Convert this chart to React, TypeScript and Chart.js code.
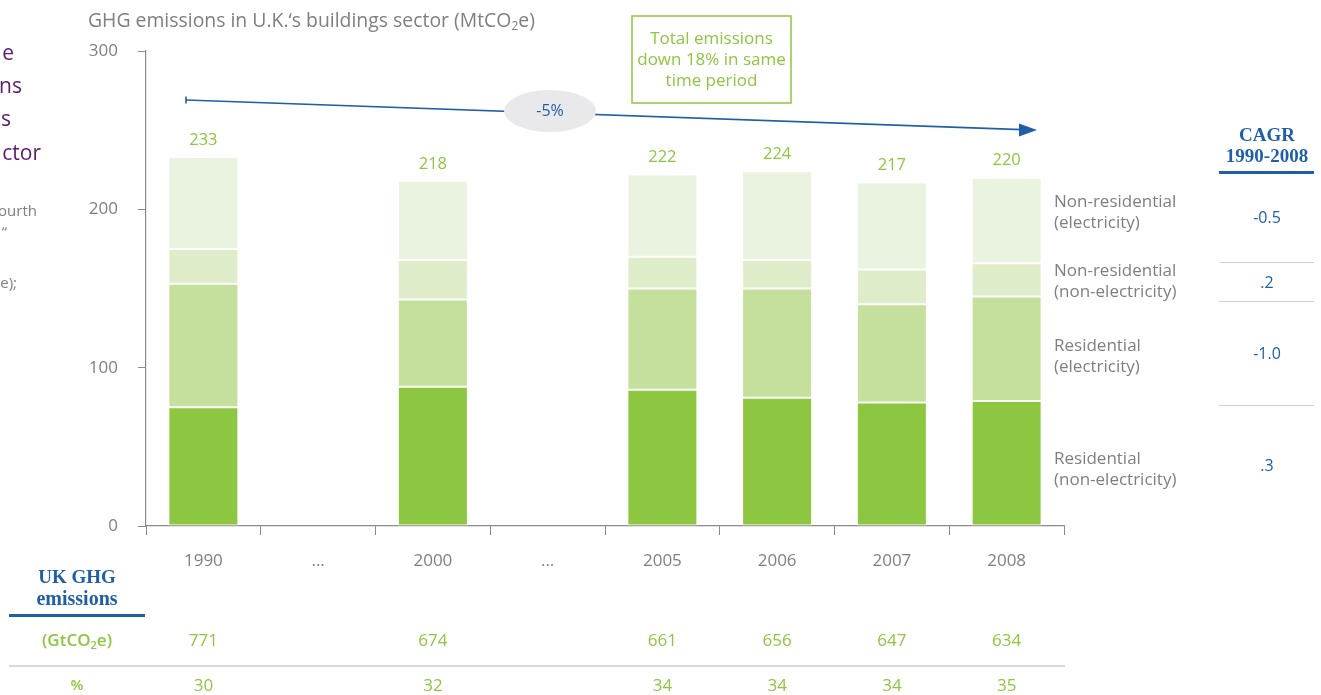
import React, { useEffect, useRef } from "react";
import { Chart, registerables } from "chart.js";

Chart.register(...registerables);

const categories = ["1990", "...", "2000", "...", "2005", "2006", "2007", "2008"];
const residentialNonElectricity = [75, null, 88, null, 86, 81, 78, 79];
const residentialElectricity = [78, null, 55, null, 64, 69, 62, 66];
const nonResidentialNonElectricity = [22, null, 25, null, 20, 18, 22, 21];
const nonResidentialElectricity = [58, null, 50, null, 52, 56, 55, 54];
const totals = [233, null, 218, null, 222, 224, 217, 220];
const ukGhgEmissions = ["771", "", "674", "", "661", "656", "647", "634"];
const buildingsShare = ["30", "", "32", "", "34", "34", "34", "35"];
const seriesLabels = [
  ["Residential", "(non-electricity)"],
  ["Residential", "(electricity)"],
  ["Non-residential", "(non-electricity)"],
  ["Non-residential", "(electricity)"],
];
const cagrValues = [".3", "-1.0", ".2", "-0.5"];
const yTickValues = [0, 100, 200, 300];

const FONT = "'Open Sans', sans-serif";
const SERIF = "'Liberation Serif', 'DejaVu Serif', serif";
const GRAY = "#7f7f7f";
const BLUE = "#1f5fa8";
const GREEN = "#8dc63f";
const PURPLE = "#5b1a6e";
const COLORS = ["#8dc641", "#c5df9d", "#dfecca", "#eaf3df"];

function txt(ctx: CanvasRenderingContext2D, s: string, x: number, y: number, font: string, color: string, align: CanvasTextAlign = "left") {
  ctx.font = font;
  ctx.fillStyle = color;
  ctx.textAlign = align;
  ctx.textBaseline = "middle";
  ctx.fillText(s, x, y);
}

function subText(ctx: CanvasRenderingContext2D, pre: string, sub: string, post: string, x: number, y: number, size: number, weight: string, color: string, align: "left" | "center") {
  const big = `${weight} ${size}px ${FONT}`;
  const small = `${weight} ${Math.round(size * 0.62)}px ${FONT}`;
  ctx.font = big;
  const w1 = ctx.measureText(pre).width;
  const w3 = ctx.measureText(post).width;
  ctx.font = small;
  const w2 = ctx.measureText(sub).width;
  let sx = align === "center" ? x - (w1 + w2 + w3) / 2 : x;
  txt(ctx, pre, sx, y, big, color, "left");
  sx += w1;
  txt(ctx, sub, sx, y + size * 0.3, small, color, "left");
  sx += w2;
  txt(ctx, post, sx, y, big, color, "left");
}

const overlay = {
  id: "overlay",
  afterDraw(chart: any) {
    const ctx: CanvasRenderingContext2D = chart.ctx;
    const xs = chart.scales.x;
    const ys = chart.scales.y;
    ctx.save();

    // Title
    subText(ctx, "GHG emissions in U.K.\u2018s buildings sector (MtCO", "2", "e)", 88, 21, 19.4, "normal", GRAY, "left");

    // Cropped side text fragments
    const pf = `normal 21px ${FONT}`;
    txt(ctx, "e", 14, 54, pf, PURPLE, "right");
    txt(ctx, "ns", 22, 87, pf, PURPLE, "right");
    txt(ctx, "s", 11, 120, pf, PURPLE, "right");
    txt(ctx, "ctor", 41, 154, pf, PURPLE, "right");
    const gf = `normal 15px ${FONT}`;
    txt(ctx, "ourth", 37, 212, gf, GRAY, "right");
    txt(ctx, "\u201c", 7, 233, gf, GRAY, "right");
    txt(ctx, "e);", 17, 284, gf, GRAY, "right");

    // Annotation box
    ctx.strokeStyle = GREEN;
    ctx.lineWidth = 1.5;
    ctx.strokeRect(632, 16, 159, 87);
    const bf = `normal 17px ${FONT}`;
    txt(ctx, "Total emissions", 711.5, 39, bf, GREEN, "center");
    txt(ctx, "down 18% in same", 711.5, 60, bf, GREEN, "center");
    txt(ctx, "time period", 711.5, 81, bf, GREEN, "center");

    // Trend arrow
    ctx.strokeStyle = BLUE;
    ctx.lineWidth = 1.6;
    ctx.beginPath();
    ctx.moveTo(186, 100);
    ctx.lineTo(1022, 129.6);
    ctx.stroke();
    ctx.beginPath();
    ctx.moveTo(186, 96.5);
    ctx.lineTo(186, 103.5);
    ctx.stroke();
    ctx.fillStyle = BLUE;
    ctx.beginPath();
    ctx.moveTo(1037, 130);
    ctx.lineTo(1019, 123.5);
    ctx.lineTo(1019, 136.5);
    ctx.closePath();
    ctx.fill();
    ctx.fillStyle = "#e9e9eb";
    ctx.beginPath();
    ctx.ellipse(550, 111, 46, 21, 0, 0, Math.PI * 2);
    ctx.fill();
    txt(ctx, "-5%", 550, 111, `normal 16px ${FONT}`, BLUE, "center");

    // Totals above bars
    totals.forEach((t, i) => {
      if (t == null) return;
      txt(ctx, String(t), xs.getPixelForValue(i), ys.getPixelForValue(t) - 17, `normal 16.5px ${FONT}`, GREEN, "center");
    });

    // Series labels on the right
    const legendY = [[459, 480], [346, 367], [271, 292], [202, 223]];
    seriesLabels.forEach((lines, i) => {
      lines.forEach((l, j) => txt(ctx, l, 1054, legendY[i][j], `normal 17px ${FONT}`, GRAY, "left"));
    });

    // CAGR table
    const hf = `bold 19px ${SERIF}`;
    txt(ctx, "CAGR", 1267, 136, hf, BLUE, "center");
    txt(ctx, "1990-2008", 1267, 157, hf, BLUE, "center");
    ctx.fillStyle = BLUE;
    ctx.fillRect(1219, 171, 95, 3);
    ctx.fillStyle = "#d0d0d0";
    [262, 301, 405].forEach((yy) => ctx.fillRect(1219, yy, 95, 1));
    const cagrY = [466, 354, 283, 218];
    cagrValues.forEach((v, i) => txt(ctx, v, 1267, cagrY[i], `normal 16px ${FONT}`, BLUE, "center"));

    // Bottom table
    txt(ctx, "UK GHG", 77, 578, hf, BLUE, "center");
    txt(ctx, "emissions", 77, 600, `bold 20px ${SERIF}`, BLUE, "center");
    ctx.fillStyle = BLUE;
    ctx.fillRect(9, 614, 136, 3);
    subText(ctx, "(GtCO", "2", "e)", 77, 641, 17, "600", GREEN, "center");
    txt(ctx, "%", 77, 686, `600 15px ${FONT}`, GREEN, "center");
    ctx.fillStyle = "#d9d9d9";
    ctx.fillRect(9, 665, 1056, 2);
    categories.forEach((_, i) => {
      const px = xs.getPixelForValue(i);
      if (ukGhgEmissions[i]) txt(ctx, ukGhgEmissions[i], px, 641, `normal 17px ${FONT}`, GREEN, "center");
      if (buildingsShare[i]) txt(ctx, buildingsShare[i], px, 686, `normal 17px ${FONT}`, GREEN, "center");
    });

    ctx.restore();
  },
};

export default function App() {
  const ref = useRef<HTMLCanvasElement>(null);
  useEffect(() => {
    if (!ref.current) return;
    const series = [residentialNonElectricity, residentialElectricity, nonResidentialNonElectricity, nonResidentialElectricity];
    const chart = new Chart(ref.current, {
      type: "bar",
      data: {
        labels: categories,
        datasets: series.map((d, i) => ({
          label: seriesLabels[i].join(" "),
          data: d as any,
          backgroundColor: COLORS[i],
          borderColor: "#ffffff",
          borderWidth: 1,
          borderSkipped: false,
          barPercentage: 0.61,
          categoryPercentage: 1,
        })),
      },
      options: {
        responsive: false,
        maintainAspectRatio: false,
        animation: false,
        layout: { padding: { left: 0, top: 51, right: 257, bottom: 109 } },
        plugins: { legend: { display: false }, tooltip: { enabled: false } },
        scales: {
          x: {
            stacked: true,
            afterFit: (s: any) => { s.height = 60; },
            grid: { offset: true, drawOnChartArea: false, tickLength: 9, color: "#8a8a8a" },
            border: { color: "#8a8a8a", width: 1.2 },
            ticks: { color: GRAY, font: { family: FONT, size: 17 }, padding: 16 },
          },
          y: {
            stacked: true,
            min: 0,
            max: 300,
            afterFit: (s: any) => { s.width = 146; },
            afterBuildTicks: (s: any) => { s.ticks = yTickValues.map((v) => ({ value: v })); },
            grid: { drawOnChartArea: false, tickLength: 8, color: "#8a8a8a" },
            border: { color: "#8a8a8a", width: 1.2 },
            ticks: { color: GRAY, font: { family: FONT, size: 17 }, padding: 20 },
          },
        },
      },
      plugins: [overlay],
    });
    return () => chart.destroy();
  }, []);
  return (
    <div style={{ position: "absolute", left: 0, top: 0, width: 1321, height: 695, background: "#fff" }}>
      <canvas ref={ref} width={1321} height={695} style={{ display: "block" }} />
    </div>
  );
}
